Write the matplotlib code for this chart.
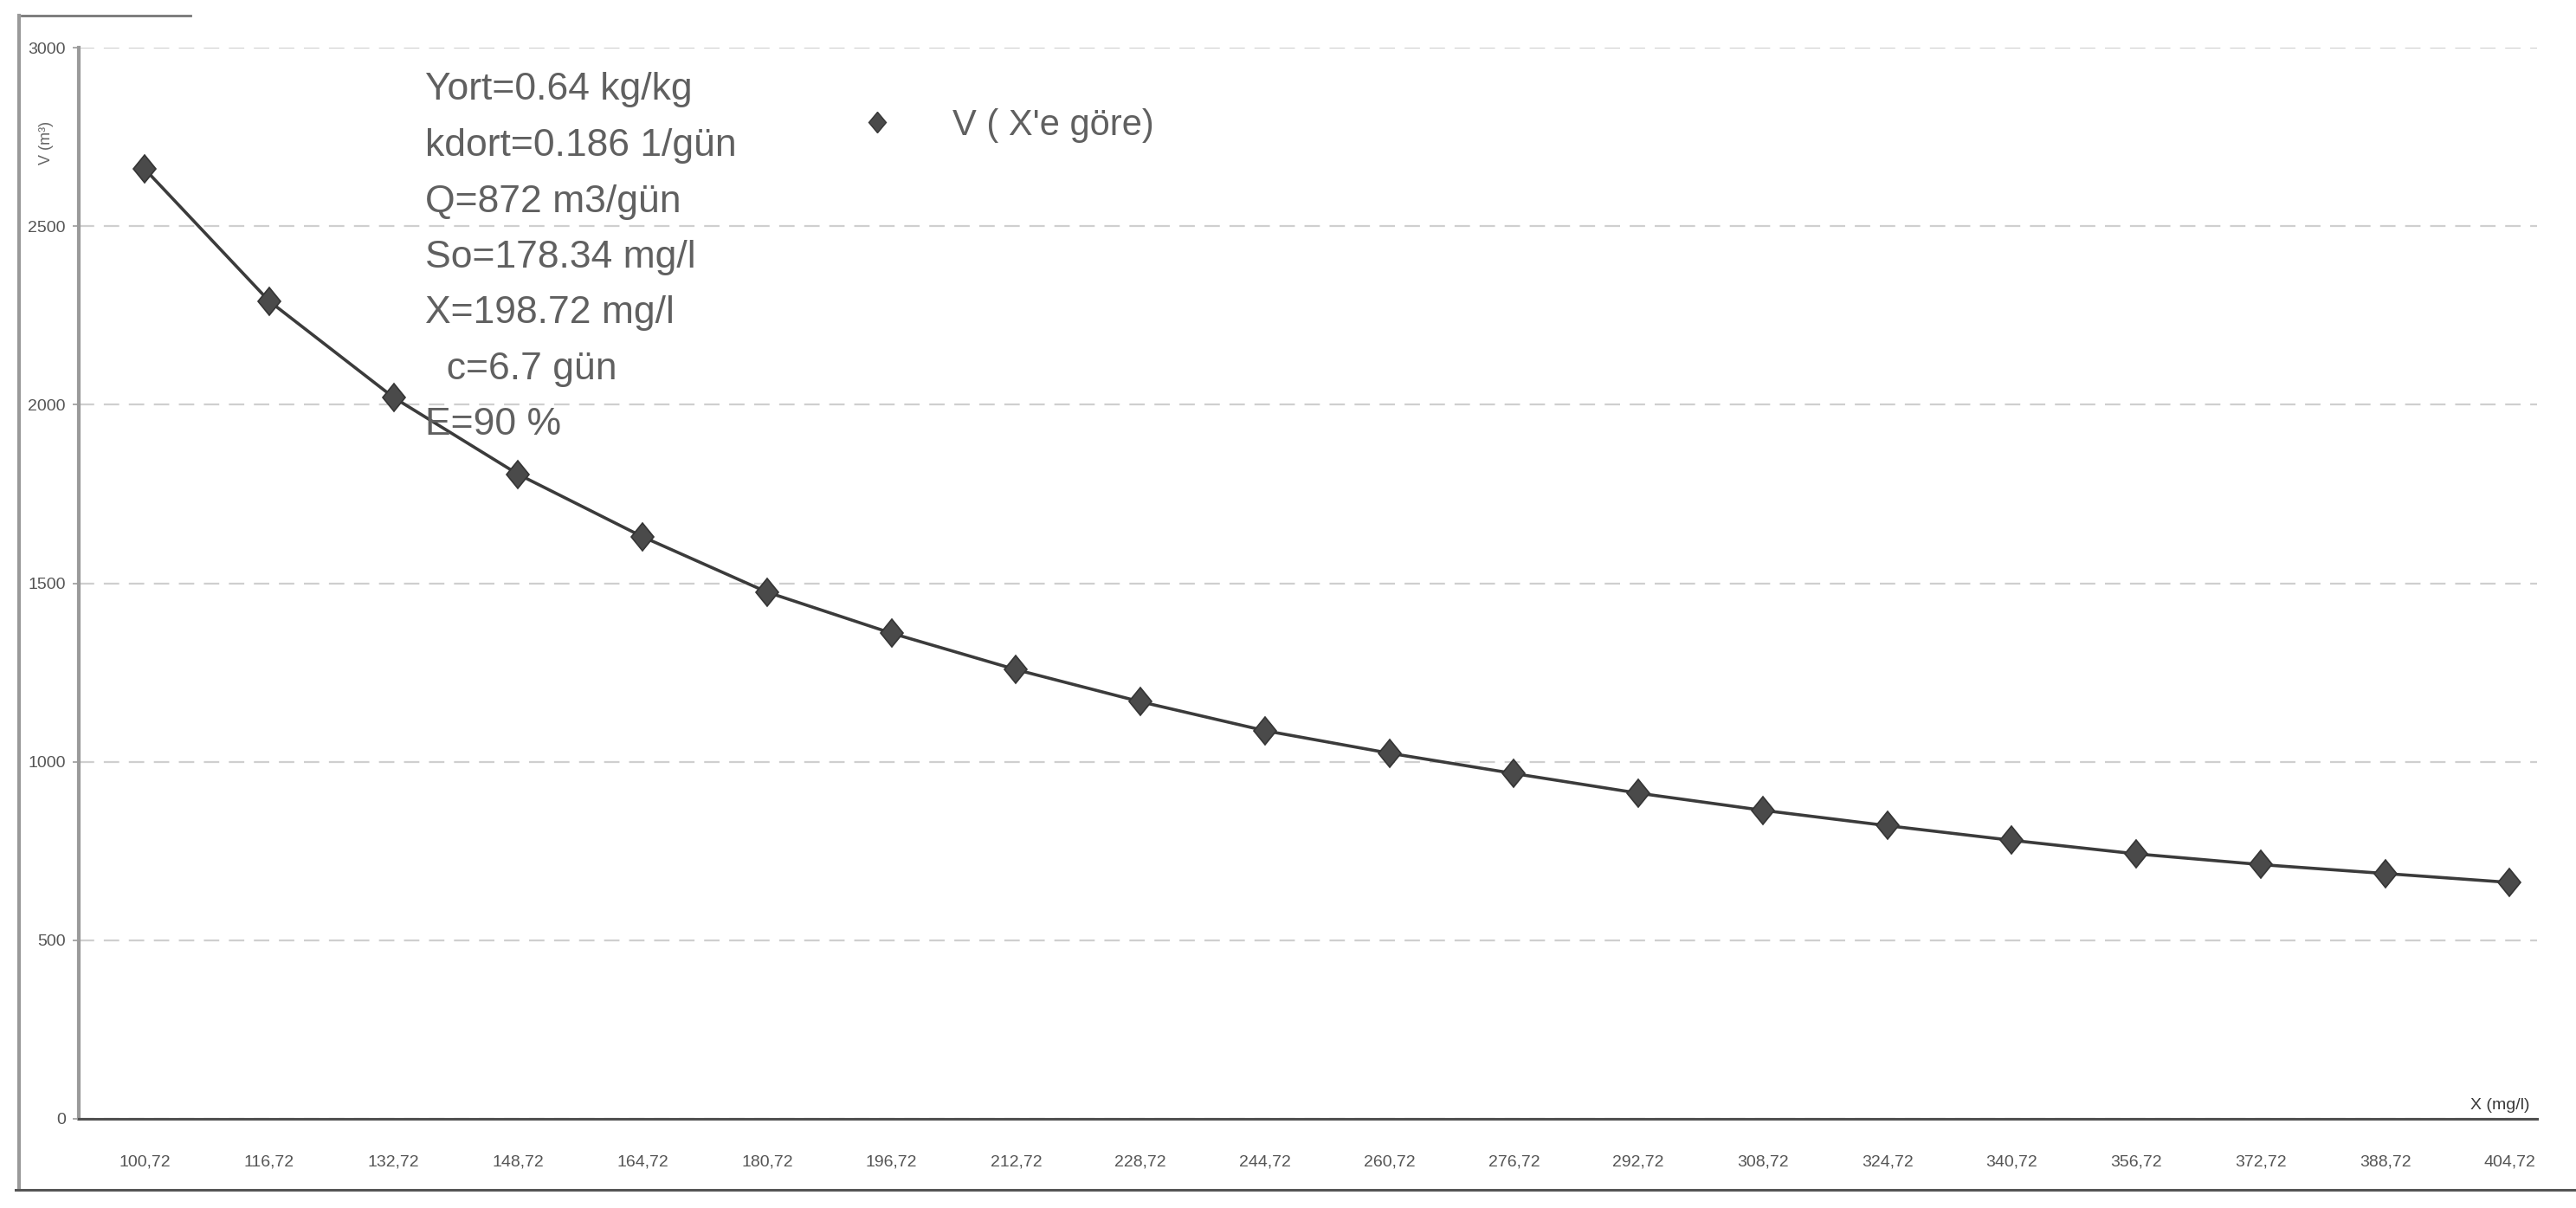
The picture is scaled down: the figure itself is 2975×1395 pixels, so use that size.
import numpy as np
import matplotlib.pyplot as plt
from matplotlib.markers import MarkerStyle
from matplotlib.transforms import Affine2D
from matplotlib.lines import Line2D

plt.rcParams['font.family'] = ['Liberation Sans', 'DejaVu Sans']

# X (mg/l) categories and the reactor volume for each
x_labels = ['100,72', '116,72', '132,72', '148,72', '164,72', '180,72', '196,72',
            '212,72', '228,72', '244,72', '260,72', '276,72', '292,72', '308,72',
            '324,72', '340,72', '356,72', '372,72', '388,72', '404,72']
v_values = [2660, 2290, 2020, 1805, 1630, 1475, 1360, 1258, 1168, 1087,
            1024, 967, 912, 864, 821, 780, 742, 712, 687, 662]
y_ticks = [0, 500, 1000, 1500, 2000, 2500, 3000]

params = ['Yort=0.64 kg/kg',
          'kdort=0.186 1/gün',
          'Q=872 m3/gün',
          'So=178.34 mg/l',
          'X=198.72 mg/l',
          '  c=6.7 gün',
          'E=90 %']
series_name = "V ( X'e göre)"

W, H = 2975, 1395
fig = plt.figure(figsize=(W / 100, H / 100), dpi=100)
fig.patch.set_facecolor('white')
ax = fig.add_axes([91 / W, 1 - 1292 / H, (2930 - 91) / W, (1292 - 55) / H])

pos = np.arange(len(v_values))
diamond = MarkerStyle('D', transform=Affine2D().scale(0.85, 1.0))
ax.plot(pos, v_values, color='#3b3b3b', lw=2.6, marker=diamond, ms=16,
        mfc='#4a4a4a', mec='#353535', mew=1.2, zorder=3)

ax.set_xlim(-0.53, 19.22)
ax.set_ylim(0, 3000)
ax.set_xticks(pos)
ax.set_xticklabels(x_labels)
ax.set_yticks(y_ticks)
ax.set_yticklabels([str(t) for t in y_ticks])
ax.tick_params(axis='x', length=0, pad=30, labelsize=14, labelcolor='#555555')
ax.tick_params(axis='y', length=5, width=1.2, color='#999999', pad=6,
               labelsize=14, labelcolor='#555555')

# faint broken grid lines
ax.yaxis.grid(True, color='#cfcfcf', lw=1.6, ls=(0, (8, 5)))
ax.set_axisbelow(True)

for side in ['top', 'right']:
    ax.spines[side].set_visible(False)
ax.spines['left'].set_color('#9a9a9a')
ax.spines['left'].set_linewidth(3.0)
ax.spines['bottom'].set_color('#505050')
ax.spines['bottom'].set_linewidth(2.2)

# axis titles
fig.text(54 / W, 1 - 165 / H, 'V (m³)', rotation=90, ha='center', va='center',
         fontsize=13, color='#666666')
ax.annotate('X (mg/l)', xy=(1, 0), xycoords='axes fraction', xytext=(-6, 5),
            textcoords='offset points', ha='right', va='bottom',
            fontsize=14, color='#3a3a3a')

# design parameters
for i, line in enumerate(params):
    fig.text(491 / W, 1 - (104 + 64.5 * i) / H, line, ha='left', va='center',
             fontsize=32, color='#606060')

# legend
handle = Line2D([], [], ls='none', marker=diamond, ms=12, mfc='#4a4a4a', mec='#353535')
fig.legend([handle], [series_name], loc='center left',
           bbox_to_anchor=(992 / W, 1 - 145 / H), frameon=False,
           handlelength=1.0, handletextpad=1.6, borderpad=0, borderaxespad=0,
           fontsize=30, labelcolor='#606060')

# outer chart frame
fig.add_artist(Line2D([22 / W, 22 / W], [1 - 18 / H, 1 - 1374 / H],
                      transform=fig.transFigure, color='#9a9a9a', lw=3))
fig.add_artist(Line2D([18 / W, 1.0], [1 - 1374 / H, 1 - 1374 / H],
                      transform=fig.transFigure, color='#555555', lw=2.2))
fig.add_artist(Line2D([25 / W, 220 / W], [1 - 18 / H, 1 - 18 / H],
                      transform=fig.transFigure, color='#777777', lw=2))

fig.savefig('out.png', dpi=100, facecolor='white')
